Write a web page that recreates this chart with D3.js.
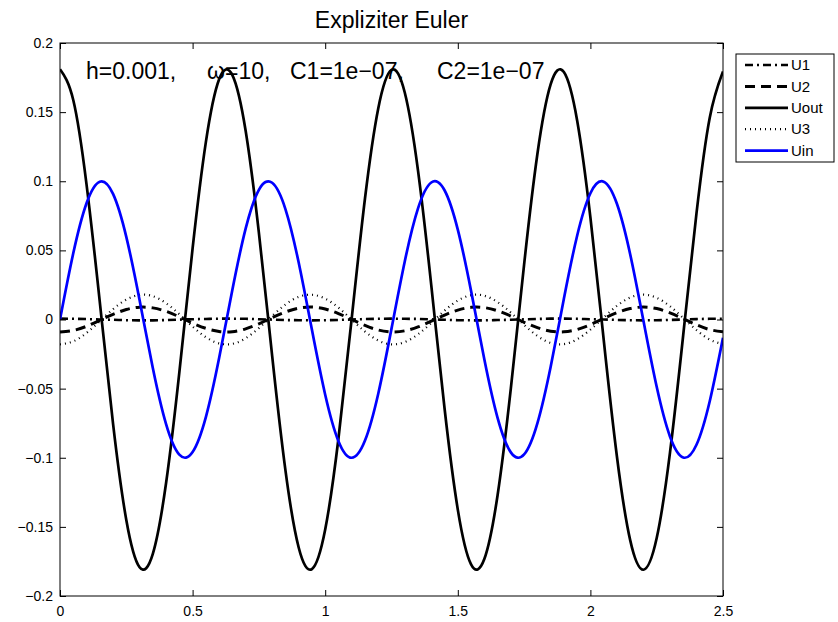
<!DOCTYPE html>
<html>
<head>
<meta charset="utf-8">
<script src="https://cdn.jsdelivr.net/npm/d3@7/dist/d3.min.js"></script>
<style>
body { margin: 0; background: #fff; }
svg { font-family: "Liberation Sans", Arial, Helvetica, sans-serif; }
</style>
</head>
<body>
<div id="chart"></div>
<script>
// sample times (s)
var tValues = [0, 0.05, 0.1, 0.15, 0.2, 0.25, 0.3, 0.35, 0.4, 0.45,
  0.5, 0.55, 0.6, 0.65, 0.7, 0.75, 0.8, 0.85, 0.9, 0.95,
  1, 1.05, 1.1, 1.15, 1.2, 1.25, 1.3, 1.35, 1.4, 1.45,
  1.5, 1.55, 1.6, 1.65, 1.7, 1.75, 1.8, 1.85, 1.9, 1.95,
  2, 2.05, 2.1, 2.15, 2.2, 2.25, 2.3, 2.35, 2.4, 2.45, 2.5];

// values
var u1 = [0.0006, 0.0005, 0.0003, 0.0000, -0.0002, -0.0005, -0.0006, -0.0006, -0.0004, -0.0001,
  0.0002, 0.0004, 0.0006, 0.0006, 0.0005, 0.0002, -0.0001, -0.0004, -0.0005, -0.0006,
  -0.0005, -0.0003, 0.0000, 0.0003, 0.0005, 0.0006, 0.0005, 0.0004, 0.0001, -0.0002,
  -0.0005, -0.0006, -0.0006, -0.0004, -0.0002, 0.0001, 0.0004, 0.0006, 0.0006, 0.0005,
  0.0002, 0.0000, -0.0003, -0.0005, -0.0006, -0.0005, -0.0003, 0.0000, 0.0003, 0.0005, 0.0006];

var u2 = [-0.0090, -0.0079, -0.0049, -0.0006, 0.0037, 0.0072, 0.0089, 0.0084, 0.0059, 0.0019,
  -0.0026, -0.0064, -0.0086, -0.0088, -0.0068, -0.0031, 0.0013, 0.0054, 0.0082, 0.0090,
  0.0076, 0.0043, 0.0000, -0.0043, -0.0076, -0.0090, -0.0082, -0.0054, -0.0012, 0.0032,
  0.0068, 0.0088, 0.0086, 0.0063, 0.0025, -0.0020, -0.0059, -0.0085, -0.0089, -0.0072,
  -0.0037, 0.0007, 0.0049, 0.0079, 0.0090, 0.0079, 0.0048, 0.0006, -0.0038, -0.0073, -0.0089];

var uOut = [0.1810, 0.1588, 0.0978, 0.0128, -0.0753, -0.1450, -0.1792, -0.1695, -0.1183, -0.0382,
  0.0514, 0.1283, 0.1738, 0.1768, 0.1365, 0.0627, -0.0263, -0.1090, -0.1649, -0.1805,
  -0.1519, -0.0861, 0.0008, 0.0875, 0.1527, 0.1806, 0.1642, 0.1077, 0.0247, -0.0642,
  -0.1375, -0.1771, -0.1733, -0.1271, -0.0498, 0.0397, 0.1195, 0.1700, 0.1790, 0.1440,
  0.0739, -0.0144, -0.0991, -0.1596, -0.1810, -0.1581, -0.0965, -0.0112, 0.0768, 0.1460, 0.1794];

var u3 = [-0.0180, -0.0158, -0.0097, -0.0013, 0.0075, 0.0144, 0.0178, 0.0169, 0.0118, 0.0038,
  -0.0051, -0.0128, -0.0173, -0.0176, -0.0136, -0.0062, 0.0026, 0.0108, 0.0164, 0.0179,
  0.0151, 0.0086, -0.0001, -0.0087, -0.0152, -0.0180, -0.0163, -0.0107, -0.0025, 0.0064,
  0.0137, 0.0176, 0.0172, 0.0126, 0.0050, -0.0039, -0.0119, -0.0169, -0.0178, -0.0143,
  -0.0073, 0.0014, 0.0099, 0.0159, 0.0180, 0.0157, 0.0096, 0.0011, -0.0076, -0.0145, -0.0178];

var uIn = [0.0000, 0.0479, 0.0841, 0.0997, 0.0909, 0.0598, 0.0141, -0.0351, -0.0757, -0.0978,
  -0.0959, -0.0706, -0.0279, 0.0215, 0.0657, 0.0938, 0.0989, 0.0799, 0.0412, -0.0075,
  -0.0544, -0.0880, -0.1000, -0.0876, -0.0537, -0.0066, 0.0420, 0.0804, 0.0991, 0.0935,
  0.0650, 0.0207, -0.0288, -0.0712, -0.0961, -0.0976, -0.0751, -0.0343, 0.0150, 0.0606,
  0.0913, 0.0997, 0.0837, 0.0472, -0.0009, -0.0487, -0.0846, -0.0998, -0.0906, -0.0591, -0.0132];

var seriesNames = ["U1", "U2", "Uout", "U3", "Uin"];
var xTicks = [0, 0.5, 1, 1.5, 2, 2.5];
var yTicks = [-0.2, -0.15, -0.1, -0.05, 0, 0.05, 0.1, 0.15, 0.2];
var titleText = "Expliziter Euler";
var noteParts = ["h=0.001,", "\u03c9=10,", "C1=1e\u221207,", "C2=1e\u221207"];

var svgWidth = 838;
var svgHeight = 622;
var margin = { top: 43, right: 115, bottom: 26, left: 60 };
var width = svgWidth - margin.left - margin.right;
var height = svgHeight - margin.top - margin.bottom;

var svg = d3.select("#chart")
  .append("svg")
  .attr("width", svgWidth)
  .attr("height", svgHeight);

var chartGroup = svg.append("g")
  .attr("transform", `translate(${margin.left}, ${margin.top})`);

var xScale = d3.scaleLinear().domain([0, 2.5]).range([0, width]);
var yScale = d3.scaleLinear().domain([-0.2, 0.2]).range([height, 0]);

// line styles per series
var styles = {
  U1: { color: "#000", w: 2.6, dash: "8,4,2,4" },
  U2: { color: "#000", w: 3, dash: "10,6" },
  Uout: { color: "#000", w: 2.7, dash: null },
  U3: { color: "#000", w: 2.2, dash: "1,4" },
  Uin: { color: "#0000ff", w: 2.7, dash: null }
};
var seriesData = { U1: u1, U2: u2, Uout: uOut, U3: u3, Uin: uIn };

svg.append("defs").append("clipPath").attr("id", "plotClip")
  .append("rect").attr("width", width).attr("height", height);

var line = d3.line()
  .x((d, i) => xScale(tValues[i]))
  .y(d => yScale(d))
  .curve(d3.curveNatural);

var lineGroup = chartGroup.append("g").attr("clip-path", "url(#plotClip)");
seriesNames.forEach(function(name) {
  var s = styles[name];
  lineGroup.append("path")
    .attr("d", line(seriesData[name]))
    .attr("fill", "none")
    .attr("stroke", s.color)
    .attr("stroke-width", s.w)
    .attr("stroke-dasharray", s.dash);
});

// axes, ticks inside like matlab
var fmt = d3.format("");
var bottomAxis = d3.axisBottom(xScale).tickValues(xTicks).tickSizeInner(-6).tickSizeOuter(0).tickPadding(10).tickFormat(fmt);
var leftAxis = d3.axisLeft(yScale).tickValues(yTicks).tickSizeInner(-6).tickSizeOuter(0).tickPadding(7).tickFormat(fmt);
var topAxis = d3.axisTop(xScale).tickValues(xTicks).tickSizeInner(-6).tickSizeOuter(0).tickFormat("");
var rightAxis = d3.axisRight(yScale).tickValues(yTicks).tickSizeInner(-6).tickSizeOuter(0).tickFormat("");

chartGroup.append("g").attr("class", "axis").attr("transform", `translate(0, ${height})`).call(bottomAxis);
chartGroup.append("g").attr("class", "axis").call(leftAxis);
chartGroup.append("g").attr("class", "axis").call(topAxis);
chartGroup.append("g").attr("class", "axis").attr("transform", `translate(${width}, 0)`).call(rightAxis);

chartGroup.selectAll(".axis text")
  .attr("font-family", "'Liberation Sans', Arial, sans-serif")
  .attr("font-size", 14)
  .attr("fill", "#000");
chartGroup.selectAll(".axis line").attr("stroke", "#000");
chartGroup.selectAll(".axis path").remove();

chartGroup.append("rect")
  .attr("width", width)
  .attr("height", height)
  .attr("fill", "none")
  .attr("stroke", "#000")
  .attr("stroke-width", 1);

// title
svg.append("text")
  .attr("x", margin.left + width / 2)
  .attr("y", 28)
  .attr("text-anchor", "middle")
  .attr("font-size", 23)
  .text(titleText);

// parameter note, pieces spaced like the original
var noteX = [26, 147, 230, 377];
var note = chartGroup.append("text")
  .attr("y", 36)
  .attr("font-size", 23);
noteParts.forEach(function(p, i) {
  note.append("tspan").attr("x", noteX[i]).text(p);
});

// legend
var legendX = 736, legendY = 54, rowH = 21.4;
var legend = svg.append("g").attr("transform", `translate(${legendX}, ${legendY})`);
legend.append("rect")
  .attr("width", 98)
  .attr("height", 108)
  .attr("fill", "#fff")
  .attr("stroke", "#000")
  .attr("stroke-width", 1);

seriesNames.forEach(function(name, i) {
  var s = styles[name];
  var yy = 11 + i * rowH;
  legend.append("line")
    .attr("x1", 9).attr("x2", 52)
    .attr("y1", yy).attr("y2", yy)
    .attr("stroke", s.color)
    .attr("stroke-width", s.w)
    .attr("stroke-dasharray", s.dash);
  legend.append("text")
    .attr("x", 55)
    .attr("y", yy)
    .attr("dy", "0.35em")
    .attr("font-size", 15)
    .text(name);
});
</script>
</body>
</html>
